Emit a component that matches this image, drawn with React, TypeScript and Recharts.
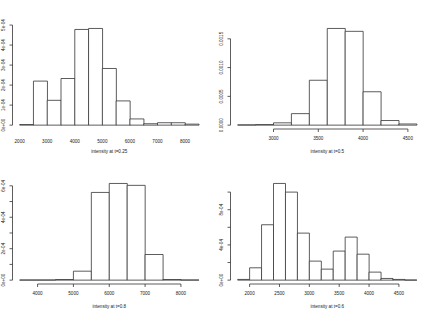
import { Bar, BarChart, ReferenceLine, XAxis, YAxis } from "recharts";

// histogram 1: t=0.25
const breaks1 = [2000, 2500, 3000, 3500, 4000, 4500, 5000, 5500, 6000, 6500, 7000, 7500, 8000, 8500];
const density1 = [3e-6, 2.2e-4, 1.24e-4, 2.33e-4, 4.78e-4, 4.83e-4, 2.83e-4, 1.21e-4, 0.31e-4, 0.07e-4, 0.12e-4, 0.12e-4, 0.05e-4];
const xTicks1 = [2000, 3000, 4000, 5000, 6000, 7000, 8000];
const yTicks1 = [0, 1e-4, 2e-4, 3e-4, 4e-4, 5e-4];
const yLabels1 = ["0e+00", "1e-04", "2e-04", "3e-04", "4e-04", "5e-04"];

// histogram 2: t=0.5
const breaks2 = [2600, 2800, 3000, 3200, 3400, 3600, 3800, 4000, 4200, 4400, 4600];
const density2 = [0.000005, 0.00001, 0.00004, 0.0002, 0.00078, 0.00168, 0.00163, 0.00058, 0.00008, 0.00002];
const xTicks2 = [3000, 3500, 4000, 4500];
const yTicks2 = [0, 0.0005, 0.001, 0.0015];
const yLabels2 = ["0.0000", "0.0005", "0.0010", "0.0015"];

// histogram 3: t=0.8
const breaks3 = [3500, 4000, 4500, 5000, 5500, 6000, 6500, 7000, 7500, 8000, 8500];
const density3 = [1e-6, 1e-6, 0.04e-4, 0.57e-4, 5.58e-4, 6.15e-4, 6.03e-4, 1.63e-4, 0.04e-4, 1e-6];
const xTicks3 = [4000, 5000, 6000, 7000, 8000];
const yTicks3 = [0, 1e-4, 2e-4, 3e-4, 4e-4, 5e-4, 6e-4];
const yLabels3 = ["0e+00", "", "2e-04", "", "4e-04", "", "6e-04"];

// histogram 4: t=0.6
const breaks4 = [1800, 2000, 2200, 2400, 2600, 2800, 3000, 3200, 3400, 3600, 3800, 4000, 4200, 4400, 4600, 4800];
const density4 = [0.08e-4, 1.4e-4, 6.29e-4, 10.98e-4, 10.0e-4, 5.34e-4, 2.16e-4, 1.25e-4, 3.3e-4, 4.89e-4, 2.95e-4, 0.91e-4, 0.19e-4, 0.08e-4, 1e-6];
const xTicks4 = [2000, 2500, 3000, 3500, 4000, 4500];
const yTicks4 = [0, 2e-4, 4e-4, 6e-4, 8e-4, 10e-4];
const yLabels4 = ["0e+00", "", "4e-04", "", "8e-04", ""];

const FONT = "Liberation Sans, Arial, sans-serif";
const INK = "#333";
const TEXT = "#222";
const FS = 4.6;

interface HistProps {
  breaks: number[];
  density: number[];
  xTicks: number[];
  yTicks: number[];
  yLabels: string[];
  title: string;
  xAxisLine?: boolean;
  height: number;
}

function Hist({ breaks, density, xTicks, yTicks, yLabels, title, xAxisLine = true, height }: HistProps) {
  const data = density.map((d, i) => ({ mid: (breaks[i] + breaks[i + 1]) / 2, d }));
  const lo = breaks[0];
  const hi = breaks[breaks.length - 1];
  const pad = (hi - lo) * 0.04;
  const m = Math.max(...density);
  const xDomain = [lo - pad, hi + pad];
  const yDomain = [-0.04 * m, 1.04 * m];

  const YTick = ({ x, y, index }: any) => {
    const s = yLabels[index];
    if (!s) return null;
    return (
      <text
        x={x}
        y={y}
        transform={`rotate(-90, ${x}, ${y})`}
        textAnchor="middle"
        fontSize={FS}
        fill={TEXT}
        fontFamily={FONT}
      >
        {s}
      </text>
    );
  };

  return (
    <BarChart
      width={218}
      height={height}
      data={data}
      barCategoryGap={0}
      barGap={0}
      margin={{ top: 24.6, right: 12, left: 0, bottom: 0 }}
    >
      <XAxis
        type="number"
        dataKey="mid"
        domain={xDomain}
        ticks={xTicks}
        axisLine={false}
        tickLine={xAxisLine ? { stroke: INK, strokeWidth: 0.8 } : false}
        tickSize={3}
        tickMargin={xAxisLine ? 4.3 : 7.3}
        height={height - 129}
        interval={0}
        tick={{ fontSize: FS, fill: TEXT, fontFamily: FONT }}
        label={{ value: title, position: "insideBottom", offset: 2.5, fontSize: FS, fill: TEXT, fontFamily: FONT }}
      />
      <YAxis
        type="number"
        domain={yDomain}
        ticks={yTicks}
        width={12.5}
        axisLine={false}
        tickLine={{ stroke: INK, strokeWidth: 0.8 }}
        tickSize={3}
        tickMargin={4.2}
        interval={0}
        tick={<YTick />}
      />
      <ReferenceLine
        segment={[
          { x: xDomain[0], y: 0 },
          { x: xDomain[0], y: yTicks[yTicks.length - 1] },
        ]}
        stroke={INK}
        strokeWidth={0.8}
        ifOverflow="visible"
      />
      {xAxisLine && (
        <ReferenceLine
          segment={[
            { x: xTicks[0], y: yDomain[0] },
            { x: xTicks[xTicks.length - 1], y: yDomain[0] },
          ]}
          stroke={INK}
          strokeWidth={0.8}
          ifOverflow="visible"
        />
      )}
      <Bar dataKey="d" fill="#fff" stroke={INK} strokeWidth={0.8} isAnimationActive={false} />
    </BarChart>
  );
}

export default function App() {
  return (
    <div style={{ position: "absolute", left: 0, top: 0, width: 436, height: 309, background: "#fff" }}>
      <div style={{ position: "absolute", left: 0, top: 0 }}>
        <Hist breaks={breaks1} density={density1} xTicks={xTicks1} yTicks={yTicks1} yLabels={yLabels1}
          title="intensity at t=0.25" xAxisLine={false} height={155} />
      </div>
      <div style={{ position: "absolute", left: 218, top: 0 }}>
        <Hist breaks={breaks2} density={density2} xTicks={xTicks2} yTicks={yTicks2} yLabels={yLabels2}
          title="intensity at t=0.5" height={155} />
      </div>
      <div style={{ position: "absolute", left: 0, top: 154.5 }}>
        <Hist breaks={breaks3} density={density3} xTicks={xTicks3} yTicks={yTicks3} yLabels={yLabels3}
          title="intensity at t=0.8" height={155} />
      </div>
      <div style={{ position: "absolute", left: 218, top: 154.5 }}>
        <Hist breaks={breaks4} density={density4} xTicks={xTicks4} yTicks={yTicks4} yLabels={yLabels4}
          title="intensity at t=0.6" height={155} />
      </div>
    </div>
  );
}
